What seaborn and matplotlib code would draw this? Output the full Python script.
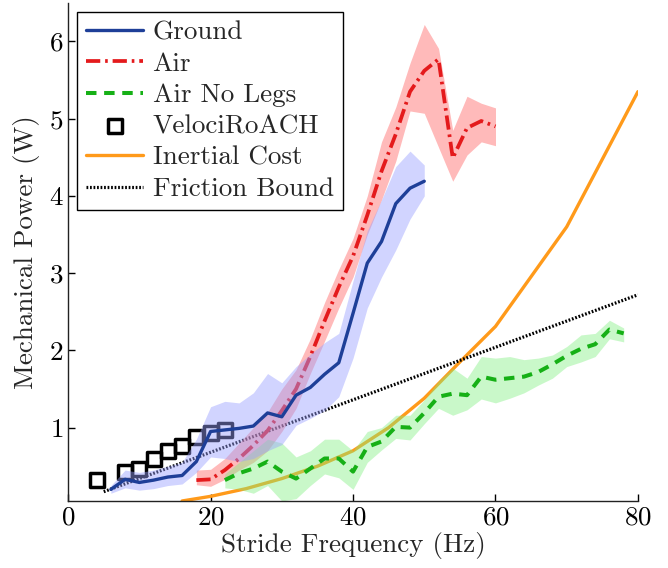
import numpy as np
import pandas as pd
import seaborn as sns
import matplotlib.pyplot as plt

# Ground runs (mean and band)
ground_freq = [6, 8, 10, 12, 14, 16, 18, 20, 22, 24, 26, 28, 30, 32, 34, 36, 38, 40, 42, 44, 46, 48, 50]
ground_mean = [0.20, 0.33, 0.29, 0.32, 0.36, 0.38, 0.56, 0.95, 0.97, 0.99, 1.02, 1.19, 1.14, 1.42, 1.52,
               1.69, 1.84, 2.48, 3.13, 3.41, 3.90, 4.10, 4.19]
ground_lo = [0.15, 0.22, 0.19, 0.21, 0.25, 0.27, 0.42, 0.62, 0.60, 0.56, 0.60, 0.70, 0.78, 1.03, 1.12,
             1.22, 1.40, 1.90, 2.55, 2.95, 3.30, 3.70, 4.00]
ground_hi = [0.25, 0.45, 0.42, 0.45, 0.50, 0.55, 0.85, 1.27, 1.34, 1.32, 1.45, 1.70, 1.58, 1.79, 1.95,
             2.10, 2.22, 2.90, 3.55, 3.95, 4.38, 4.58, 4.40]

# Air runs
air_freq = [18, 20, 22, 24, 26, 28, 30, 32, 34, 36, 38, 40, 42, 44, 46, 48, 50, 52, 54, 56, 58, 60]
air_mean = [0.32, 0.33, 0.45, 0.60, 0.77, 0.96, 1.22, 1.50, 1.92, 2.38, 2.82, 3.22, 3.75, 4.32, 4.80,
            5.35, 5.62, 5.77, 4.49, 4.88, 4.97, 4.90]
air_lo = [0.26, 0.24, 0.33, 0.45, 0.55, 0.70, 0.95, 1.25, 1.70, 2.12, 2.55, 2.95, 3.50, 3.95, 4.45,
          5.10, 5.07, 4.63, 4.19, 4.53, 4.70, 4.65]
air_hi = [0.45, 0.46, 0.60, 0.80, 1.00, 1.20, 1.50, 1.75, 2.15, 2.62, 3.05, 3.45, 4.00, 4.70, 5.15,
          5.72, 6.22, 5.91, 4.85, 5.29, 5.20, 5.14]

# Air, no legs
nolegs_freq = [22, 24, 26, 28, 30, 32, 34, 36, 38, 40, 42, 44, 46, 48, 50, 52, 54, 56, 58, 60,
               62, 64, 66, 68, 70, 72, 74, 76, 78]
nolegs_mean = [0.32, 0.41, 0.47, 0.56, 0.43, 0.34, 0.47, 0.60, 0.60, 0.43, 0.75, 0.82, 1.01, 1.00,
               1.19, 1.40, 1.44, 1.42, 1.66, 1.62, 1.64, 1.66, 1.72, 1.82, 1.93, 2.02, 2.08, 2.27, 2.22]
nolegs_lo = [0.22, 0.20, 0.15, 0.25, 0.05, 0.08, 0.25, 0.40, 0.35, 0.20, 0.55, 0.71, 0.86, 0.84,
             1.05, 1.25, 1.16, 1.23, 1.37, 1.32, 1.38, 1.45, 1.55, 1.64, 1.79, 1.85, 1.92, 2.15, 2.11]
nolegs_hi = [0.40, 0.55, 0.70, 0.85, 0.80, 0.62, 0.70, 0.85, 0.85, 0.70, 0.95, 1.00, 1.16, 1.16,
             1.36, 1.60, 1.77, 1.64, 1.92, 1.90, 1.92, 1.88, 1.90, 1.94, 2.05, 2.20, 2.22, 2.39, 2.29]

# VelociRoACH points
robot_freq = [4, 8, 10, 12, 14, 16, 18, 20, 22]
robot_power = [0.32, 0.43, 0.46, 0.59, 0.70, 0.76, 0.88, 0.93, 0.97]

# Inertial cost curve
inertial_freq = [16, 20, 25, 30, 35, 40, 45, 50, 55, 60, 70, 80]
inertial_power = [0.05, 0.11, 0.21, 0.34, 0.50, 0.70, 1.00, 1.38, 1.85, 2.31, 3.60, 5.35]

# Friction bound line
friction_freq = [5, 80]
friction_power = [0.17, 2.72]

sns.set_style("ticks")
plt.rcParams['font.family'] = 'serif'
plt.rcParams['font.serif'] = ['cmr10']
plt.rcParams['axes.formatter.use_mathtext'] = True
plt.rcParams['mathtext.fontset'] = 'cm'
plt.rcParams['font.size'] = 19.5

blue = "#1e3f98"
red = "#e41a1c"
green = "#16b016"
orange = "#ff9a1a"

fig, ax = plt.subplots(figsize=(6.68, 5.68), dpi=100)
fig.subplots_adjust(left=0.102, right=0.955, bottom=0.118, top=0.995)

sns.lineplot(x=ground_freq, y=ground_mean, ax=ax, color=blue, linewidth=2.4,
             label="Ground", zorder=2.6)
sns.lineplot(x=air_freq, y=air_mean, ax=ax, color=red, linewidth=2.7,
             linestyle=(0, (3.8, 1.3, 0.7, 1.3)), label="Air", zorder=2.2)
sns.lineplot(x=nolegs_freq, y=nolegs_mean, ax=ax, color=green, linewidth=2.9,
             linestyle=(0, (2.6, 1.9)), label="Air No Legs", zorder=2.4)
sns.scatterplot(x=robot_freq, y=robot_power, ax=ax, marker="s", s=100,
                facecolor="none", edgecolor="black", linewidth=2.5,
                label="VelociRoACH", zorder=1.8)
sns.lineplot(x=inertial_freq, y=inertial_power, ax=ax, color=orange, linewidth=2.4,
             label="Inertial Cost", zorder=1.6)
sns.lineplot(x=friction_freq, y=friction_power, ax=ax, color="black", linewidth=2.3,
             linestyle=(0, (0.55, 0.55)), label="Friction Bound", zorder=1.7)

# shaded spread bands
ax.fill_between(air_freq, air_lo, air_hi, color="#ff6666", alpha=0.45,
                linewidth=0, zorder=2.1)
ax.fill_between(nolegs_freq, nolegs_lo, nolegs_hi, color="#80f080", alpha=0.42,
                linewidth=0, zorder=2.3)
ax.fill_between(ground_freq, ground_lo, ground_hi, color="#9aa0ff", alpha=0.45,
                linewidth=0, zorder=2.5)

ax.set_xlim(0, 80)
ax.set_ylim(0.05, 6.5)
ax.set_xticks([0, 20, 40, 60, 80])
ax.set_yticks([1, 2, 3, 4, 5, 6])
ax.set_xlabel("Stride Frequency (Hz)", labelpad=2)
ax.set_ylabel("Mechanical Power (W)", labelpad=6)
ax.tick_params(direction="in", length=5, width=1, labelsize=19.5, colors="black")
sns.despine(ax=ax)
for sp in ["left", "bottom"]:
    ax.spines[sp].set_color("#222222")
    ax.spines[sp].set_linewidth(1)

leg = ax.legend(loc="upper left", bbox_to_anchor=(0.016, 0.982), borderaxespad=0,
                fancybox=False, framealpha=1, edgecolor="black", fontsize=19.5,
                handlelength=2.1, handletextpad=0.35, labelspacing=0.27, borderpad=0.33)
leg.get_frame().set_linewidth(1)

fig.savefig("out.png", dpi=100)
